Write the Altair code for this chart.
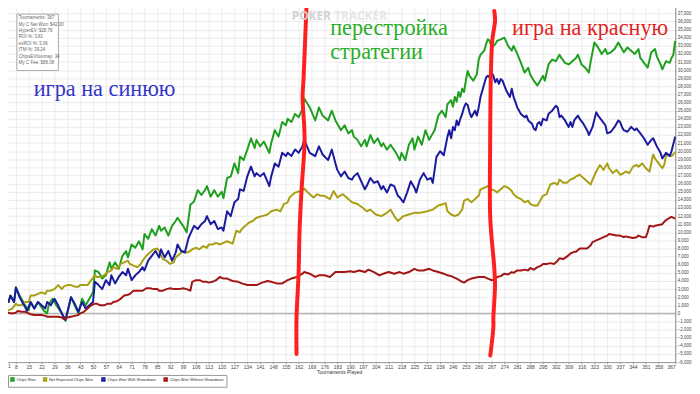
import altair as alt
import pandas as pd

# ---------------- data ----------------
green_t = [1, 2, 4, 5, 7, 8, 10, 13, 15, 16, 18, 20, 23, 25, 26, 28, 30, 33, 35, 38, 40, 42, 44, 46, 48, 50,
           51, 53, 55, 57, 59, 60, 62, 64, 66, 68, 69, 71, 73, 75, 77, 78, 80, 82, 84, 86, 87, 89, 91, 93, 95, 96,
           99, 101, 103, 105, 107, 109, 111, 112, 114, 116, 118, 120, 121, 123, 125, 127, 129, 130, 132, 134, 136,
           138, 139, 141, 143, 146, 147, 149, 151, 153, 155, 156, 158, 160, 162, 164, 165, 168, 171, 173, 175, 178,
           180, 182, 185, 187, 189, 191, 192, 194, 196, 198, 199, 201, 203, 205, 207, 208, 210, 212, 215, 217, 218,
           220, 222, 224, 225, 227, 229, 231, 233, 234, 236, 238, 240, 242, 243, 245, 246, 247, 248, 249, 250, 251,
           252, 253, 254, 255, 257, 259, 260, 261, 263, 264, 265, 266, 267, 269, 270, 272, 274, 276, 278, 279, 281,
           283, 285, 287, 288, 290, 292, 294, 295, 296, 298, 300, 302, 304, 305, 307, 309, 311, 313, 314, 316, 318,
           320, 321, 323, 325, 327, 329, 330, 332, 334, 336, 338, 339, 341, 343, 345, 347, 348, 350, 352, 354, 356,
           357, 359, 360, 362, 364, 365, 366, 367]
green_v = [0, 1800, 1400, 2200, 1400, 3200, 2200, 1000, 400, 1400, 600, 1400, 400, 0, 1200, 1800, 1000, 0, -900,
           2000, 1000, 0, 1800, 1000, 1800, 2600, 5300, 5100, 4300, 4700, 6300, 5500, 6300, 5500, 7100, 7700, 6900,
           8500, 8100, 8900, 7900, 9800, 9200, 10400, 9600, 10800, 10200, 10600, 9600, 10800, 11400, 11800, 10800,
           10000, 13400, 13800, 15200, 14600, 15200, 15700, 14400, 15200, 14400, 15000, 14200, 16700, 16900, 18500,
           17300, 19350, 18900, 20200, 21600, 20400, 21400, 20600, 21200, 19800, 21000, 22600, 21800, 23600, 23200,
           24000, 23600, 24600, 24200, 25200, 26500, 25400, 23800, 25400, 24400, 23800, 25000, 23800, 22600, 23200,
           22200, 22600, 21800, 21400, 20600, 21400, 20600, 22000, 21000, 21600, 20600, 21000, 20200, 20800, 19800,
           18900, 19800, 18900, 20800, 21600, 20200, 21800, 20800, 22600, 21400, 21800, 22600, 24400, 25000, 24200,
           25800, 26300, 25500, 26700, 26100, 27300, 26700, 27700, 27300, 28700, 29900, 29300, 28700, 29500, 31300,
           31900, 32400, 33200, 33800, 33600, 32800, 33200, 33600, 33800, 34000, 33000, 32400, 33000, 32000, 30900,
           29700, 30300, 29500, 28700, 28100, 28900, 29300, 28700, 30700, 31300, 31100, 31900, 31500, 30900, 30700,
           31100, 31500, 31900, 30700, 30300, 29700, 31100, 33400, 32800, 32000, 32600, 32000, 32200, 32600, 33400,
           32600, 32200, 32800, 32400, 32000, 32600, 31500, 30900, 30300, 32200, 32600, 31700, 30700, 30100, 31100,
           30900, 31500, 31900, 33600]

olive_t = [1, 2, 4, 6, 8, 9, 11, 13, 15, 16, 18, 20, 22, 24, 25, 27, 29, 31, 33, 34, 36, 38, 40, 42, 43, 45, 47,
           49, 51, 52, 54, 56, 58, 60, 61, 63, 65, 67, 69, 70, 72, 74, 76, 77, 79, 81, 83, 85, 86, 88, 90, 92, 94,
           95, 97, 99, 101, 103, 104, 106, 108, 110, 112, 113, 115, 117, 119, 121, 123, 126, 128, 130, 131, 133, 135,
           137, 139, 142, 145, 147, 150, 152, 154, 156, 157, 160, 163, 165, 167, 170, 172, 174, 176, 179, 181, 183,
           186, 189, 191, 194, 197, 199, 201, 204, 207, 210, 212, 214, 216, 219, 222, 225, 228, 232, 235, 238, 241,
           242, 243, 245, 247, 249, 251, 252, 254, 256, 258, 260, 261, 263, 265, 267, 269, 270, 272, 274, 276, 278,
           279, 281, 283, 285, 287, 288, 290, 292, 294, 295, 297, 299, 301, 303, 304, 306, 308, 310, 312, 313, 315,
           317, 319, 321, 322, 324, 326, 328, 330, 331, 333, 335, 337, 339, 340, 342, 344, 346, 347, 349, 351, 353,
           355, 356, 358, 360, 361, 362, 364, 365, 367]
olive_v = [0, 400, 400, 600, 1200, 1000, 1000, 1400, 1400, 2200, 2200, 2400, 2600, 2400, 2800, 2800, 3000, 3500,
           3000, 3300, 3500, 3500, 3300, 3300, 3500, 3500, 3500, 4100, 4700, 4500, 4500, 4700, 5100, 5300, 5700,
           5500, 6100, 6300, 6500, 6100, 5900, 5700, 6100, 6500, 7100, 7500, 7900, 8000, 7700, 6700, 6500, 6100,
           6300, 6900, 7300, 7700, 7500, 7700, 7900, 8100, 7900, 8300, 8100, 8500, 8500, 8700, 8500, 8700, 8900,
           8600, 10200, 10000, 10400, 10800, 11200, 11400, 11800, 12000, 12200, 12600, 12800, 12600, 13500, 13700,
           14300, 14900, 15100, 15400, 14900, 14300, 14700, 14500, 14500, 14100, 15100, 14300, 14700, 14100, 13700,
           13500, 13000, 12600, 12800, 12200, 12000, 12400, 12800, 12000, 11400, 12000, 12200, 12400, 12400, 12600,
           12800, 13300, 13500, 13600, 12600, 12200, 12000, 12200, 12800, 13900, 14100, 13700, 14100, 14500, 15300,
           15500, 15700, 15300, 15100, 14900, 15300, 15700, 15500, 15100, 14700, 14300, 14100, 13700, 13900, 13500,
           13300, 13300, 14100, 14500, 14700, 15900, 16100, 15900, 16500, 16100, 16100, 16500, 16700, 16900, 17100,
           16700, 16300, 15900, 16500, 17500, 18300, 17700, 18500, 17900, 17300, 17700, 17100, 17300, 17500, 17300,
           18100, 18300, 18100, 18500, 17900, 17500, 19600, 19100, 18500, 17900, 18300, 19400, 19600, 19400, 19900]

blue_t = [1, 2, 4, 5, 7, 8, 10, 13, 14, 16, 18, 20, 22, 24, 25, 27, 29, 31, 33, 35, 38, 40, 42, 44, 46, 48, 50,
          51, 53, 55, 57, 59, 60, 62, 64, 66, 68, 69, 71, 73, 75, 77, 78, 80, 82, 84, 86, 87, 89, 91, 93, 95, 96,
          98, 100, 102, 103, 105, 107, 109, 111, 112, 114, 116, 118, 120, 121, 123, 125, 127, 129, 130, 132, 134,
          136, 138, 139, 141, 143, 146, 147, 149, 151, 153, 155, 156, 158, 160, 162, 164, 165, 168, 171, 173, 175,
          178, 180, 182, 183, 185, 187, 189, 191, 192, 194, 196, 198, 199, 201, 203, 205, 207, 208, 210, 212, 214,
          216, 217, 219, 221, 223, 225, 226, 228, 230, 232, 234, 235, 237, 239, 241, 243, 244, 245, 246, 247, 248,
          249, 250, 251, 252, 253, 254, 255, 256, 257, 258, 259, 260, 261, 262, 264, 265, 266, 267, 268, 269, 270,
          271, 272, 273, 274, 275, 276, 277, 278, 279, 281, 283, 285, 286, 287, 289, 290, 291, 292, 293, 294, 295,
          297, 298, 299, 300, 302, 303, 304, 305, 307, 309, 310, 311, 312, 314, 315, 317, 319, 320, 322, 324, 325,
          327, 329, 330, 332, 334, 336, 337, 338, 339, 341, 343, 345, 346, 348, 350, 352, 354, 355, 357, 359, 360,
          362, 364, 365, 367]
blue_v = [0, 1600, 1400, 2200, 1400, 3200, 2000, 800, 300, 1400, 600, 1400, 1000, 600, 1400, 1000, 1800, 1000, 0,
          -800, 2000, 1200, 200, 1400, 600, 1000, 1400, 3900, 3500, 3000, 4100, 3500, 4700, 3700, 4500, 5100, 4700,
          5500, 4100, 4700, 5100, 5700, 5300, 6500, 7100, 7700, 6900, 7900, 6900, 7700, 6500, 7500, 8500, 7700,
          7500, 9300, 9800, 10800, 10400, 11000, 11400, 12000, 11000, 11400, 10400, 10600, 10200, 12600, 12000,
          13700, 14100, 15300, 15100, 16900, 18100, 16900, 17300, 16900, 17300, 15700, 16900, 18500, 18100, 19800,
          19400, 19800, 19400, 20200, 19800, 20600, 21400, 19800, 19400, 20600, 19600, 18900, 20200, 18500, 17700,
          16900, 17500, 16700, 16500, 16900, 17300, 16300, 15300, 15700, 16700, 16100, 16300, 15300, 15700, 14900,
          15900, 15700, 14500, 14300, 13700, 14900, 16300, 15500, 14900, 16500, 17300, 16500, 16700, 16100, 19300,
          20000, 19500, 21800, 22600, 21600, 23000, 22600, 23800, 23200, 24000, 24600, 25400, 25900, 25700, 24800,
          24200, 24600, 25000, 24400, 25400, 26700, 27500, 29100, 29300, 29100, 29700, 29300, 28500, 28900, 28300,
          28900, 28700, 28100, 27500, 27100, 26700, 27700, 26700, 25400, 24600, 24200, 24400, 23800, 23400, 22800,
          22600, 23400, 23600, 23200, 24000, 23800, 24600, 24800, 25000, 25600, 25400, 24200, 24400, 23800, 23000,
          23600, 23000, 23800, 24400, 24000, 23400, 22600, 22000, 23000, 24800, 24400, 23800, 23200, 22200, 22400,
          23000, 23800, 23600, 23000, 22600, 22400, 23000, 22600, 22800, 22200, 21600, 20800, 21400, 21600, 20600,
          19800, 19100, 19800, 19400, 20000, 21800]

red_t = [1, 3, 6, 8, 9, 11, 13, 15, 16, 18, 20, 22, 24, 25, 27, 29, 31, 33, 34, 36, 38, 40, 42, 43, 45, 47, 49,
         51, 52, 54, 56, 58, 60, 61, 63, 65, 67, 69, 70, 72, 74, 76, 77, 79, 81, 83, 85, 86, 88, 90, 92, 94, 95, 97,
         99, 101, 103, 104, 106, 108, 110, 112, 113, 115, 117, 119, 121, 123, 126, 129, 131, 134, 137, 139, 142,
         145, 147, 150, 153, 156, 158, 161, 164, 165, 168, 171, 173, 176, 179, 182, 184, 187, 190, 192, 195, 198,
         200, 203, 206, 208, 211, 214, 217, 219, 222, 225, 227, 230, 233, 235, 238, 241, 243, 245, 248, 251, 252,
         254, 256, 260, 263, 265, 267, 269, 270, 272, 274, 276, 278, 279, 281, 283, 285, 287, 288, 290, 292, 294,
         295, 297, 299, 301, 303, 304, 306, 308, 310, 312, 313, 315, 317, 319, 321, 322, 324, 326, 328, 330, 331,
         333, 335, 337, 339, 340, 342, 344, 346, 347, 349, 351, 352, 353, 355, 356, 358, 360, 361, 362, 364, 365,
         367]
red_v = [0, 100, 0, 100, 300, 200, 200, 0, -100, -200, -200, -200, -300, -400, -400, -400, -400, -500, -700, -500,
         -400, -300, -200, 0, 200, 600, 1000, 1200, 1200, 1000, 1000, 1200, 1200, 1400, 1500, 1800, 2200, 2300,
         2400, 2800, 2800, 2800, 2800, 3100, 3100, 3000, 3000, 2800, 2800, 3000, 3100, 3000, 3000, 3000, 3100,
         3000, 2800, 3900, 4100, 4100, 3900, 3900, 3800, 3900, 4100, 4500, 4300, 4300, 4000, 3900, 3700, 3500,
         3500, 3500, 3800, 4000, 3900, 3700, 3700, 4100, 4300, 4500, 4900, 5100, 4900, 4500, 4700, 4700, 4500,
         5100, 5100, 5100, 5200, 5100, 5300, 5100, 5400, 5100, 4700, 4900, 5100, 4900, 5100, 4900, 5100, 5500,
         5300, 5300, 5500, 5300, 5100, 4900, 4700, 4600, 4300, 3900, 3800, 4100, 4300, 4500, 4500, 4300, 4100,
         4200, 4500, 4600, 4900, 4800, 5100, 5000, 5300, 5300, 5400, 5300, 5600, 5400, 5700, 5900, 6100, 6100,
         6200, 6100, 6500, 6800, 6700, 7000, 7400, 7600, 7600, 8000, 8000, 8000, 8400, 8800, 9000, 9200, 9400,
         9600, 9800, 9700, 9600, 9600, 9400, 9500, 9400, 9300, 9400, 9600, 9400, 9400, 10000, 10800, 10700, 10800,
         10900, 11000, 11300, 11500, 11800, 11900, 11700]

series_names = ["Chips Won", "Net Expected Chips Won", "Chips Won With Showdown", "Chips Won Without Showdown"]
series_colors = ["#1f9f1f", "#a99f14", "#1a1aa0", "#a31616"]

x_ticks = list(range(8, 359, 7)) + [367]      # tick "1" is drawn separately at the clipped left edge
y_ticks = list(range(-6000, 38001, 1000))

# hand-drawn red markers (tournament, chips)
marker1_t = [166.2, 165.7, 164.6, 164.1, 165.2, 163.6, 162.5, 161.9, 160.8, 160.8]
marker1_v = [37600, 34900, 28800, 26700, 21500, 15400, 10500, 4800, -500, -5000]
marker2_t = [268.5, 268.9, 267.4, 266.7, 266.2, 266.3, 268.5, 268.9, 268.0, 268.0, 266.3]
marker2_v = [37300, 36100, 33700, 30000, 19900, 11700, 5600, 3500, -500, -1700, -5200]

info_lines = ["Tournaments: 367", "My C Net Won: $42.00", "HyperEV: $28.76", "ROI %: 3.81",
              "evROI %: 3.06", "ITM %: 39.24", "ChipsEV/tournay: 34", "My C Fee: $88.08"]

# ---------------- tables ----------------
rows = []
for name, ts, vs in zip(series_names, [green_t, olive_t, blue_t, red_t], [green_v, olive_v, blue_v, red_v]):
    for t, v in zip(ts, vs):
        rows.append({"Tournament": t, "Chips": v, "Series": name})
df = pd.DataFrame(rows)

mrows = []
for mid, ts, vs in [(1, marker1_t, marker1_v), (2, marker2_t, marker2_v)]:
    for i, (t, v) in enumerate(zip(ts, vs)):
        mrows.append({"Tournament": t, "Chips": v, "m": mid, "i": i})
mdf = pd.DataFrame(mrows)

FONT = "Liberation Sans"
X = alt.X("Tournament:Q", title="Tournaments Played",
          scale=alt.Scale(domain=[1, 367], nice=False, zero=False),
          axis=alt.Axis(values=x_ticks, labelFontSize=5, titleFontSize=5, titleFontWeight="normal",
                        labelFont=FONT, titleFont=FONT, labelColor="#444", titleColor="#333",
                        grid=True, gridColor="#ececec", tickSize=1.5, tickColor="#999", domainColor="#999",
                        labelPadding=0.5, titlePadding=1, labelOverlap=False, titleAnchor="middle"))
Y = alt.Y("Chips:Q", title=None,
          scale=alt.Scale(domain=[-6000, 38000], nice=False, zero=False),
          axis=alt.Axis(orient="right", values=y_ticks, format=",d", labelFontSize=4.5, labelFont=FONT,
                        labelColor="#444", grid=True, gridColor="#ececec", tickSize=1, tickColor="#999",
                        domainColor="#999", labelPadding=1, labelOverlap=False))

lines = alt.Chart(df).mark_line(strokeWidth=2, strokeJoin="round").encode(
    x=X, y=Y,
    color=alt.Color("Series:N", scale=alt.Scale(domain=series_names, range=series_colors),
                    legend=alt.Legend(title=None, orient="none", legendX=5, legendY=374,
                                      direction="horizontal", symbolType="square", symbolSize=6,
                                      symbolStrokeWidth=2, labelFontSize=4, labelFont=FONT,
                                      labelColor="#333", strokeColor="#999", fillColor="white",
                                      padding=2, columnPadding=4, labelOffset=1.5)),
    order="Tournament:Q")

zero = alt.Chart(pd.DataFrame({"Chips": [0]})).mark_rule(color="#b5b5b5", strokeWidth=1.5).encode(y=Y)

markers = alt.Chart(mdf).mark_line(color="#ff1f1f", strokeWidth=4, strokeCap="round",
                                   strokeJoin="round", interpolate="catmull-rom").encode(
    x=X, y=Y, detail="m:N", order="i:Q")

one = pd.DataFrame({"a": [0]})
layers = [zero, lines, markers]

# first x tick label, kept visible at the left edge
layers.append(alt.Chart(one).mark_text(align="left", baseline="top", fontSize=5, font=FONT,
                                       color="#444").encode(
    x=alt.value(5), y=alt.value(363), text=alt.value("1")))

# info box
layers.append(alt.Chart(one).mark_rect(fill="white", stroke="#aaa", strokeWidth=1).encode(
    x=alt.value(14), x2=alt.value(56), y=alt.value(9), y2=alt.value(66)))
for k, s in enumerate(info_lines):
    layers.append(alt.Chart(one).mark_text(align="left", baseline="middle", fontSize=4.5, font=FONT,
                                           color="#666").encode(
        x=alt.value(16), y=alt.value(13 + 6.5 * k), text=alt.value(s)))

# watermark
layers.append(alt.Chart(one).mark_text(align="left", baseline="middle", fontSize=12, font="Open Sans",
                                       fontWeight="bold", color="#d2d2d2").encode(
    x=alt.value(292), y=alt.value(11), text=alt.value("POKER")))
layers.append(alt.Chart(one).mark_text(align="left", baseline="middle", fontSize=12, font="Open Sans",
                                       fontWeight="bold", color="#e6e6e6").encode(
    x=alt.value(335), y=alt.value(11), text=alt.value("TRACKER")))

# annotations
notes = [("игра на синюю", 31, 92, "#3434c8"),
         ("перестройка", 331, 30, "#2aad2a"),
         ("стратегии", 331, 54, "#2aad2a"),
         ("игра на красную", 515, 30, "#e41e1e")]
for s, xx, yy, c in notes:
    layers.append(alt.Chart(one).mark_text(align="left", baseline="alphabetic", fontSize=22.5,
                                           font="Liberation Serif", color=c).encode(
        x=alt.value(xx), y=alt.value(yy), text=alt.value(s)))

chart = alt.layer(*layers).properties(
    width=680, height=361,
    padding={"left": -5, "top": -5, "right": 17, "bottom": 24},
    autosize=alt.AutoSizeParams(type="none"),
    background="white",
).configure_view(stroke="#bbb")

chart.save("out.html", embed_options={"renderer": "svg", "actions": False})
